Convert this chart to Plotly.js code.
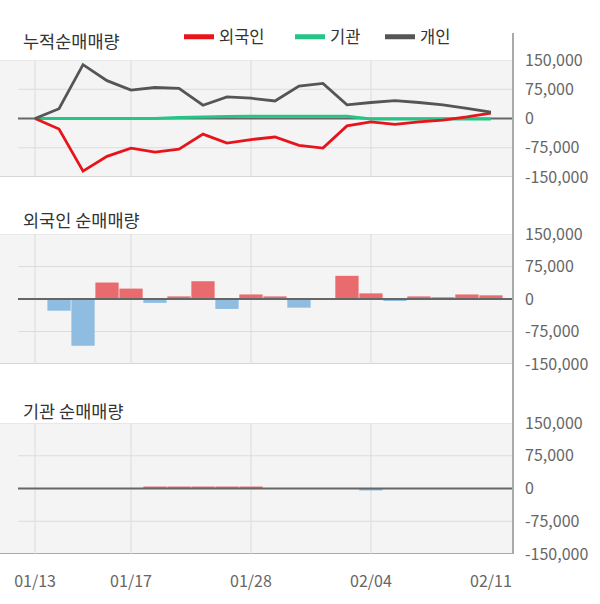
<!DOCTYPE html>
<html>
<head>
<meta charset="utf-8">
<script src="https://cdn.plot.ly/plotly-3.0.1.min.js"></script>
<style>html,body{margin:0;padding:0;background:#fff;}#chart{width:600px;height:604px;}</style>
</head>
<body>
<div id="chart"></div>
<script>
// ---- data ----
var dates = ['01/13','01/14','01/15','01/16','01/17','01/20','01/21','01/22','01/23','01/28','01/29','01/30','01/31','02/03','02/04','02/05','02/06','02/07','02/10','02/11'];
var tickDates = ['01/13','01/17','01/28','02/04','02/11'];
var gridDates = ['01/13','01/17','01/28','02/04'];
var yTickVals = [-150000, -75000, 0, 75000, 150000];
var yTickText = ['-150,000', '-75,000', '0', '75,000', '150,000'];
var seriesNames = ['외국인', '기관', '개인'];
var panelTitles = ['누적순매매량', '외국인 순매매량', '기관 순매매량'];

// cumulative net buying
var cumForeign = [0, -27000, -135000, -97000, -76000, -86000, -78500, -40000, -63000, -54000, -47500, -69000, -76000, -19000, -8500, -15000, -8500, -4000, 4000, 14000];
var cumInst = [0, 0, 0, 0, 0, 0, 2500, 3000, 5000, 6000, 6000, 6000, 6000, 6000, -1500, -1500, -1500, -1500, -1500, -1000];
var cumIndiv = [0, 25000, 138000, 97000, 73000, 79500, 77000, 34000, 55500, 52000, 45000, 83000, 90000, 35000, 41000, 46000, 41000, 35000, 26000, 16500];

// daily net buying
var foreignNet = [null, -27000, -108000, 38000, 24000, -9000, 6000, 41000, -23000, 10500, 6000, -20000, 0, 53500, 13000, -4500, 6000, 4000, 10500, 8500];
var instNet = [null, 0, 0, 0, 0, 4500, 4500, 4500, 4500, 4500, 0, 0, 0, 0, -4500, 0, 0, 0, 0, 0];

// ---- styles ----
var lineColors = ['#e8141c', '#26c487', '#555555'];
var posColor = '#ea6b6d', negColor = '#8fbde2';
function barColors(arr){ return arr.map(function(v){ return (v !== null && v < 0) ? negColor : posColor; }); }

var traces = [
  {x: dates, y: cumInst, type: 'scatter', mode: 'lines', line: {color: lineColors[1], width: 3}, xaxis: 'x', yaxis: 'y', showlegend: false, hoverinfo: 'skip'},
  {x: dates, y: cumForeign, type: 'scatter', mode: 'lines', line: {color: lineColors[0], width: 2.8}, xaxis: 'x', yaxis: 'y', showlegend: false, hoverinfo: 'skip'},
  {x: dates, y: cumIndiv, type: 'scatter', mode: 'lines', line: {color: lineColors[2], width: 2.8}, xaxis: 'x', yaxis: 'y', showlegend: false, hoverinfo: 'skip'},
  {x: dates, y: foreignNet, type: 'bar', marker: {color: barColors(foreignNet)}, xaxis: 'x', yaxis: 'y2', showlegend: false, hoverinfo: 'skip'},
  {x: dates, y: instNet, type: 'bar', marker: {color: barColors(instNet)}, xaxis: 'x', yaxis: 'y3', showlegend: false, hoverinfo: 'skip'}
];
// legend entries
var legendIds = ['legend', 'legend2', 'legend3'];
seriesNames.forEach(function(n, i){
  traces.push({x: [null], y: [null], type: 'scatter', mode: 'lines', name: n, line: {color: lineColors[i], width: 5}, xaxis: 'x', yaxis: 'y', showlegend: true, legend: legendIds[i], hoverinfo: 'skip'});
});

var H = 604, PW = 513;
function py(px){ return 1 - px / H; }
var domains = [[py(177), py(60)], [py(364), py(234)], [py(554), py(423)]];
var yrefs = ['y', 'y2', 'y3'];
var XL = -1.46, XR = 19.92, XG = -0.71;

var shapes = [];
yrefs.forEach(function(yr, p){
  [-75000, 75000].forEach(function(v){
    shapes.push({type: 'line', xref: 'x', yref: yr, x0: XG, x1: XR, y0: v, y1: v, line: {color: '#dcdcdc', width: 1}, layer: 'below'});
  });
  shapes.push({type: 'line', xref: 'paper', yref: yr, x0: 0, x1: 1, y0: 150000, y1: 150000, line: {color: '#dcdcdc', width: 1}, layer: 'below'});
  shapes.push({type: 'line', xref: 'paper', yref: yr, x0: 0, x1: 1, y0: -150000, y1: -150000, line: {color: p === 2 ? '#aaaaaa' : '#cccccc', width: p === 2 ? 2 : 1.5}, layer: 'below'});
  gridDates.forEach(function(d){
    shapes.push({type: 'line', xref: 'x', yref: yr, x0: d, x1: d, y0: -150000, y1: 150000, line: {color: '#dcdcdc', width: 1}, layer: 'below'});
  });
  shapes.push({type: 'line', xref: 'x', yref: yr, x0: XG, x1: XR, y0: 0, y1: 0, line: {color: '#666666', width: 2.2}, layer: p === 0 ? 'below' : 'above'});
});
shapes.push({type: 'line', xref: 'paper', yref: 'paper', x0: 1, x1: 1, y0: py(554), y1: py(33), line: {color: '#aaaaaa', width: 2}});

var titleY = [41, 219, 410];
var annotations = panelTitles.map(function(t, i){
  return {text: t, xref: 'paper', yref: 'paper', x: 21 / PW, y: py(titleY[i]), xanchor: 'left', yanchor: 'middle', showarrow: false, font: {family: 'Noto Sans CJK KR', size: 17.5, color: '#333333'}};
});

var tickFont = {family: 'Noto Sans CJK KR', size: 16, color: '#666666'};
function yaxis(i){
  return {domain: domains[i], anchor: 'x', side: 'right', range: [-150000, 150000], tickmode: 'array', tickvals: yTickVals, ticktext: yTickText,
    showgrid: false, zeroline: false, showline: false, ticks: '', tickfont: tickFont, ticklabelstandoff: 11, fixedrange: true};
}
var legX = [179, 290, 380];
var layout = {
  width: 600, height: 604,
  margin: {l: 0, r: 87, t: 0, b: 0},
  paper_bgcolor: '#ffffff', plot_bgcolor: '#f4f4f4',
  font: {family: 'Noto Sans CJK KR', color: '#333333'},
  bargap: 0.03,
  xaxis: {type: 'category', categoryorder: 'array', categoryarray: dates, range: [XL, XR], anchor: 'y3', domain: [0, 1],
    tickmode: 'array', tickvals: tickDates, ticktext: tickDates, showgrid: false, zeroline: false, showline: false, ticks: '',
    tickfont: tickFont, ticklabelstandoff: 16, fixedrange: true},
  yaxis: yaxis(0), yaxis2: yaxis(1), yaxis3: yaxis(2),
  shapes: shapes,
  annotations: annotations
};
legendIds.forEach(function(id, i){
  layout[id] = {x: legX[i] / PW, y: py(37), xanchor: 'left', yanchor: 'middle', orientation: 'h', bgcolor: 'rgba(0,0,0,0)',
    font: {family: 'Noto Sans CJK KR', size: 16.5, color: '#333333'}, itemclick: false, itemdoubleclick: false};
});

Plotly.newPlot('chart', traces, layout, {staticPlot: true, displayModeBar: false});
</script>
</body>
</html>
